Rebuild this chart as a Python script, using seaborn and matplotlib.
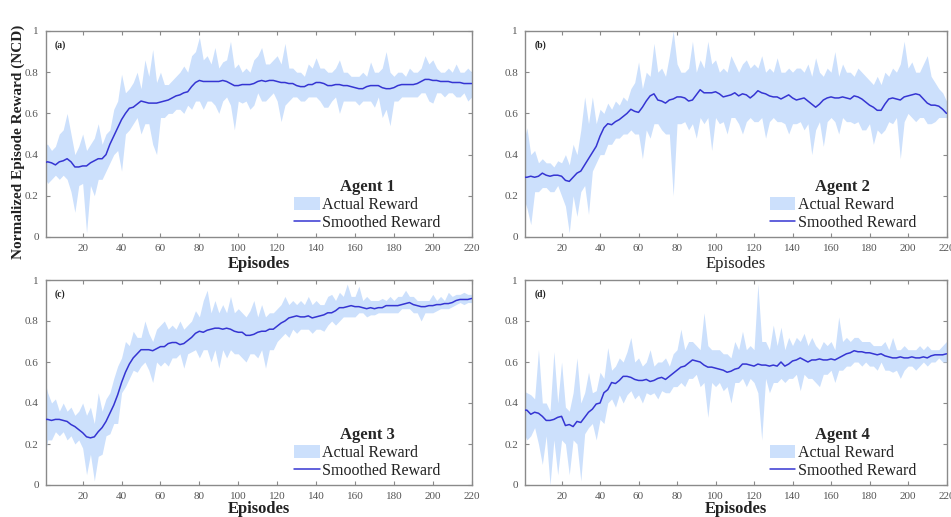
import numpy as np
import pandas as pd
import matplotlib
matplotlib.use("Agg")
import matplotlib.pyplot as plt
import seaborn as sns

# ---------------- data (sampled every 2 episodes) ----------------
episodes = list(range(0, 221, 2))

agent1_smoothed = [
    0.36, 0.365, 0.36, 0.35, 0.365, 0.37, 0.38, 0.365, 0.34, 0.34,
    0.345, 0.345, 0.36, 0.37, 0.38, 0.38, 0.40, 0.45, 0.49, 0.53,
    0.57, 0.60, 0.625, 0.63, 0.645, 0.66, 0.655, 0.65, 0.65, 0.65,
    0.655, 0.66, 0.665, 0.675, 0.685, 0.69, 0.70, 0.705, 0.73, 0.75,
    0.76, 0.755, 0.755, 0.755, 0.755, 0.755, 0.76, 0.755, 0.745, 0.735,
    0.735, 0.74, 0.74, 0.74, 0.745, 0.755, 0.76, 0.755, 0.76, 0.76,
    0.755, 0.75, 0.75, 0.745, 0.745, 0.735, 0.73, 0.73, 0.74, 0.74,
    0.75, 0.75, 0.745, 0.735, 0.735, 0.74, 0.74, 0.735, 0.735, 0.73,
    0.725, 0.72, 0.72, 0.73, 0.735, 0.735, 0.735, 0.725, 0.72, 0.72,
    0.725, 0.735, 0.74, 0.74, 0.74, 0.74, 0.745, 0.755, 0.765, 0.765,
    0.76, 0.76, 0.755, 0.755, 0.755, 0.75, 0.75, 0.75, 0.745, 0.745,
    0.745]
agent1_actual_high = [
    0.45, 0.45, 0.42, 0.44, 0.50, 0.52, 0.60, 0.50, 0.40, 0.44,
    0.50, 0.42, 0.45, 0.48, 0.55, 0.45, 0.50, 0.52, 0.62, 0.66,
    0.79, 0.70, 0.72, 0.75, 0.80, 0.72, 0.86, 0.78, 0.91, 0.75,
    0.80, 0.74, 0.74, 0.76, 0.78, 0.80, 0.83, 0.80, 0.88, 0.90,
    0.97, 0.86, 0.88, 0.84, 0.92, 0.82, 0.85, 0.86, 0.95, 0.82,
    0.84, 0.80, 0.82, 0.80, 0.86, 0.88, 0.92, 0.84, 0.84, 0.86,
    0.88, 0.84, 0.94, 0.82, 0.82, 0.80, 0.80, 0.78, 0.84, 0.82,
    0.87, 0.82, 0.82, 0.80, 0.80, 0.82, 0.86, 0.80, 0.80, 0.78,
    0.78, 0.78, 0.80, 0.78, 0.85, 0.80, 0.80, 0.82, 0.90, 0.80,
    0.78, 0.80, 0.80, 0.78, 0.82, 0.80, 0.80, 0.82, 0.88, 0.84,
    0.86, 0.82, 0.80, 0.80, 0.82, 0.80, 0.84, 0.80, 0.80, 0.82,
    0.80]
agent1_actual_low = [
    0.30, 0.26, 0.28, 0.30, 0.28, 0.30, 0.28, 0.22, 0.12, 0.25,
    0.26, 0.02, 0.25, 0.20, 0.28, 0.28, 0.32, 0.36, 0.40, 0.42,
    0.32, 0.50, 0.52, 0.55, 0.58, 0.50, 0.55, 0.55, 0.45, 0.40,
    0.58, 0.58, 0.60, 0.60, 0.62, 0.62, 0.60, 0.64, 0.62, 0.66,
    0.66, 0.62, 0.66, 0.66, 0.64, 0.60, 0.66, 0.68, 0.64, 0.52,
    0.66, 0.65, 0.66, 0.62, 0.64, 0.70, 0.66, 0.66, 0.68, 0.70,
    0.66, 0.56, 0.64, 0.66, 0.68, 0.68, 0.66, 0.66, 0.68, 0.68,
    0.68, 0.66, 0.63, 0.63, 0.66, 0.68, 0.60, 0.66, 0.66, 0.66,
    0.66, 0.64, 0.66, 0.66, 0.66, 0.63, 0.68, 0.58, 0.62, 0.54,
    0.66, 0.66, 0.68, 0.68, 0.68, 0.68, 0.68, 0.70, 0.70, 0.66,
    0.65, 0.70, 0.70, 0.68, 0.70, 0.70, 0.68, 0.68, 0.70, 0.66,
    0.68]

agent2_smoothed = [
    0.29, 0.29, 0.295, 0.29, 0.295, 0.31, 0.30, 0.295, 0.30, 0.30,
    0.295, 0.275, 0.27, 0.29, 0.31, 0.32, 0.35, 0.38, 0.41, 0.44,
    0.49, 0.53, 0.55, 0.545, 0.56, 0.57, 0.585, 0.60, 0.62, 0.61,
    0.605, 0.63, 0.66, 0.685, 0.695, 0.665, 0.66, 0.65, 0.665, 0.67,
    0.68, 0.68, 0.675, 0.66, 0.665, 0.69, 0.715, 0.70, 0.70, 0.70,
    0.705, 0.695, 0.68, 0.685, 0.69, 0.70, 0.685, 0.695, 0.69, 0.675,
    0.69, 0.71, 0.70, 0.695, 0.685, 0.68, 0.68, 0.67, 0.68, 0.69,
    0.675, 0.665, 0.67, 0.675, 0.66, 0.645, 0.63, 0.645, 0.665, 0.675,
    0.68, 0.675, 0.675, 0.68, 0.675, 0.67, 0.685, 0.68, 0.67, 0.655,
    0.64, 0.63, 0.615, 0.615, 0.645, 0.67, 0.675, 0.67, 0.665, 0.68,
    0.685, 0.69, 0.695, 0.69, 0.67, 0.65, 0.64, 0.64, 0.635, 0.62,
    0.60]
agent2_actual_high = [
    0.45, 0.53, 0.40, 0.42, 0.36, 0.38, 0.36, 0.36, 0.34, 0.37,
    0.36, 0.40, 0.35, 0.45, 0.40, 0.52, 0.68, 0.55, 0.68, 0.55,
    0.62, 0.60, 0.65, 0.62, 0.66, 0.64, 0.68, 0.66, 0.72, 0.75,
    0.85, 0.72, 0.80, 0.78, 0.94, 0.80, 0.82, 0.78, 0.88, 1.00,
    0.84, 0.80, 0.80, 0.82, 0.95, 0.80, 0.86, 0.82, 0.95, 0.84,
    0.86, 0.80, 0.82, 0.80, 0.88, 0.84, 0.80, 0.84, 0.86, 0.82,
    0.84, 0.82, 0.88, 0.80, 0.82, 0.80, 0.87, 0.80, 0.80, 0.82,
    0.80, 0.82, 0.82, 0.80, 0.84, 0.78, 0.87, 0.80, 0.78, 0.82,
    0.80, 0.90, 0.78, 0.84, 0.80, 0.80, 0.78, 0.82, 0.80, 0.78,
    0.76, 0.74, 0.78, 0.74, 0.80, 0.78, 0.82, 0.80, 0.84, 0.95,
    0.82, 0.85, 0.80, 0.80, 0.84, 0.88, 0.78, 0.75, 0.72, 0.70,
    0.66]
agent2_actual_low = [
    0.20, 0.14, 0.06, 0.22, 0.22, 0.24, 0.24, 0.22, 0.22, 0.25,
    0.20, 0.15, 0.02, 0.20, 0.10, 0.22, 0.25, 0.11, 0.32, 0.36,
    0.40, 0.40, 0.45, 0.45, 0.48, 0.48, 0.50, 0.50, 0.52, 0.50,
    0.50, 0.38, 0.52, 0.48, 0.55, 0.55, 0.52, 0.50, 0.50, 0.20,
    0.55, 0.55, 0.56, 0.52, 0.55, 0.48, 0.58, 0.55, 0.58, 0.42,
    0.58, 0.55, 0.56, 0.50, 0.58, 0.58, 0.55, 0.50, 0.56, 0.58,
    0.56, 0.56, 0.58, 0.48, 0.56, 0.58, 0.56, 0.56, 0.55, 0.50,
    0.55, 0.55, 0.56, 0.52, 0.55, 0.40, 0.52, 0.56, 0.44, 0.56,
    0.58, 0.56, 0.50, 0.58, 0.56, 0.56, 0.55, 0.56, 0.52, 0.52,
    0.55, 0.45, 0.52, 0.50, 0.52, 0.56, 0.55, 0.58, 0.38, 0.56,
    0.60, 0.58, 0.56, 0.58, 0.58, 0.55, 0.55, 0.56, 0.58, 0.58,
    0.58]

agent3_smoothed = [
    0.32, 0.32, 0.315, 0.32, 0.32, 0.315, 0.31, 0.295, 0.285, 0.27,
    0.255, 0.235, 0.23, 0.235, 0.26, 0.28, 0.31, 0.35, 0.39, 0.44,
    0.50, 0.55, 0.59, 0.62, 0.64, 0.66, 0.66, 0.66, 0.655, 0.665,
    0.675, 0.675, 0.69, 0.695, 0.695, 0.685, 0.69, 0.705, 0.72, 0.74,
    0.75, 0.745, 0.755, 0.76, 0.765, 0.765, 0.76, 0.765, 0.76, 0.75,
    0.745, 0.745, 0.73, 0.73, 0.735, 0.745, 0.75, 0.75, 0.76, 0.76,
    0.775, 0.79, 0.80, 0.815, 0.82, 0.825, 0.82, 0.82, 0.825, 0.815,
    0.82, 0.825, 0.83, 0.84, 0.84, 0.85, 0.865, 0.865, 0.87, 0.875,
    0.87, 0.87, 0.865, 0.86, 0.865, 0.86, 0.865, 0.865, 0.875, 0.875,
    0.875, 0.875, 0.88, 0.885, 0.89, 0.88, 0.875, 0.87, 0.87, 0.875,
    0.875, 0.88, 0.88, 0.885, 0.885, 0.89, 0.90, 0.905, 0.905, 0.905,
    0.91]
agent3_actual_high = [
    0.53, 0.45, 0.40, 0.42, 0.36, 0.40, 0.36, 0.38, 0.34, 0.36,
    0.40, 0.34, 0.38, 0.30, 0.45, 0.36, 0.42, 0.45, 0.52, 0.58,
    0.62, 0.70, 0.68, 0.75, 0.72, 0.72, 0.80, 0.74, 0.70, 0.76,
    0.78, 0.80, 0.76, 0.78, 0.76, 0.80, 0.76, 0.78, 0.80, 0.85,
    0.82, 0.90, 0.95, 0.84, 0.90, 0.84, 0.88, 0.84, 0.92, 0.84,
    0.86, 0.84, 0.82, 0.85, 0.90, 0.82, 0.88, 0.82, 0.84, 0.84,
    0.86, 0.88, 0.92, 0.88, 0.90, 0.88, 0.90, 0.88, 0.92, 0.88,
    0.90, 0.88, 0.88, 0.92, 0.93, 0.90, 0.94, 0.92, 0.98, 0.92,
    0.92, 0.97, 0.90, 0.92, 0.90, 0.90, 0.90, 0.91, 0.90, 0.92,
    0.90, 0.92, 0.92, 0.95, 0.92, 0.92, 0.90, 0.90, 0.90, 0.90,
    0.93, 0.90, 0.92, 0.90, 0.94, 0.92, 0.93, 0.93, 0.94, 0.93,
    0.93]
agent3_actual_low = [
    0.10, 0.22, 0.22, 0.26, 0.24, 0.26, 0.22, 0.24, 0.20, 0.22,
    0.18, 0.05, 0.15, 0.02, 0.14, 0.15, 0.24, 0.25, 0.30, 0.30,
    0.45, 0.48, 0.52, 0.56, 0.55, 0.58, 0.60, 0.56, 0.50, 0.60,
    0.58, 0.60, 0.58, 0.62, 0.62, 0.64, 0.57, 0.64, 0.65, 0.66,
    0.62, 0.66, 0.66, 0.60, 0.66, 0.57, 0.66, 0.62, 0.66, 0.64,
    0.64, 0.62, 0.60, 0.64, 0.64, 0.62, 0.66, 0.57, 0.66, 0.66,
    0.70, 0.72, 0.74, 0.72, 0.76, 0.74, 0.76, 0.76, 0.76, 0.74,
    0.76, 0.76, 0.75, 0.78, 0.80, 0.78, 0.80, 0.82, 0.82, 0.82,
    0.82, 0.84, 0.84, 0.82, 0.83, 0.83, 0.84, 0.84, 0.84, 0.84,
    0.84, 0.84, 0.86, 0.86, 0.86, 0.84, 0.84, 0.80, 0.84, 0.84,
    0.84, 0.85, 0.86, 0.86, 0.86, 0.87, 0.88, 0.89, 0.88, 0.89,
    0.89]

agent4_smoothed = [
    0.365, 0.365, 0.345, 0.355, 0.35, 0.335, 0.315, 0.315, 0.32, 0.33,
    0.335, 0.29, 0.295, 0.285, 0.31, 0.305, 0.33, 0.355, 0.37, 0.395,
    0.40, 0.45, 0.465, 0.50, 0.495, 0.51, 0.53, 0.53, 0.525, 0.515,
    0.51, 0.51, 0.515, 0.505, 0.51, 0.52, 0.525, 0.515, 0.53, 0.545,
    0.56, 0.575, 0.58, 0.595, 0.61, 0.605, 0.60, 0.585, 0.575, 0.575,
    0.57, 0.565, 0.56, 0.55, 0.555, 0.565, 0.57, 0.59, 0.59, 0.585,
    0.58, 0.59, 0.585, 0.585, 0.58, 0.585, 0.58, 0.60, 0.58, 0.59,
    0.605, 0.61, 0.62, 0.61, 0.60, 0.61, 0.61, 0.615, 0.61, 0.61,
    0.615, 0.61, 0.62, 0.63, 0.64, 0.645, 0.655, 0.65, 0.65, 0.645,
    0.645, 0.64, 0.635, 0.64, 0.63, 0.625, 0.62, 0.62, 0.625, 0.62,
    0.62, 0.625, 0.62, 0.62, 0.625, 0.62, 0.63, 0.635, 0.635, 0.635,
    0.64]
agent4_actual_high = [
    0.46, 0.45, 0.44, 0.42, 0.66, 0.40, 0.40, 0.36, 0.65, 0.40,
    0.60, 0.38, 0.36, 0.45, 0.62, 0.40, 0.45, 0.55, 0.45, 0.46,
    0.55, 0.52, 0.67, 0.56, 0.58, 0.62, 0.60, 0.65, 0.72, 0.60,
    0.62, 0.58, 0.60, 0.66, 0.58, 0.60, 0.60, 0.62, 0.58, 0.64,
    0.66, 0.76, 0.66, 0.70, 0.70, 0.68, 0.66, 0.84, 0.68, 0.66,
    0.66, 0.66, 0.64, 0.64, 0.62, 0.70, 0.66, 0.75, 0.66, 0.68,
    0.66, 0.98, 0.70, 0.70, 0.66, 0.78, 0.68, 0.77, 0.66, 0.72,
    0.68, 0.72, 0.70, 0.74, 0.68, 0.72, 0.68, 0.66, 0.70, 0.68,
    0.70, 0.66, 0.82, 0.70, 0.72, 0.70, 0.72, 0.72, 0.70, 0.70,
    0.70, 0.68, 0.68, 0.68, 0.70, 0.66, 0.72, 0.66, 0.66, 0.68,
    0.66, 0.66, 0.66, 0.68, 0.66, 0.68, 0.66, 0.66, 0.66, 0.68,
    0.70]
agent4_actual_low = [
    0.26, 0.22, 0.24, 0.28, 0.20, 0.10, 0.24, 0.00, 0.22, 0.05,
    0.22, 0.20, 0.05, 0.22, 0.20, 0.02, 0.25, 0.28, 0.30, 0.22,
    0.32, 0.30, 0.40, 0.42, 0.38, 0.44, 0.40, 0.44, 0.46, 0.42,
    0.44, 0.40, 0.45, 0.44, 0.45, 0.42, 0.46, 0.45, 0.45, 0.48,
    0.48, 0.50, 0.48, 0.52, 0.52, 0.54, 0.48, 0.50, 0.33, 0.50,
    0.48, 0.50, 0.46, 0.48, 0.40, 0.50, 0.50, 0.52, 0.48, 0.52,
    0.50, 0.45, 0.22, 0.52, 0.45, 0.50, 0.50, 0.52, 0.50, 0.52,
    0.52, 0.54, 0.46, 0.54, 0.52, 0.52, 0.50, 0.48, 0.54, 0.54,
    0.56, 0.50, 0.56, 0.56, 0.58, 0.58, 0.60, 0.60, 0.58, 0.60,
    0.58, 0.58, 0.56, 0.60, 0.56, 0.56, 0.55, 0.56, 0.52, 0.56,
    0.58, 0.58, 0.56, 0.58, 0.60, 0.58, 0.60, 0.60, 0.62, 0.60,
    0.60]

panel_labels = ["(a)", "(b)", "(c)", "(d)"]
agent_names = ["Agent 1", "Agent 2", "Agent 3", "Agent 4"]
xticks = [20, 40, 60, 80, 100, 120, 140, 160, 180, 200, 220]
yticks = [0, 0.2, 0.4, 0.6, 0.8, 1]
ytick_labels = ["0", "0.2", "0.4", "0.6", "0.8", "1"]
xlabel_bold = [True, False, True, True]

# ---------------- style ----------------
sns.set_style("ticks")
plt.rcParams["font.family"] = ["Liberation Serif", "DejaVu Serif"]
plt.rcParams["xtick.direction"] = "in"
plt.rcParams["ytick.direction"] = "in"

FILL = "#cce0fc"
LINE = "#3535d2"
SPINE = "#8a8a8a"
TICKC = "#555555"

fig = plt.figure(figsize=(9.51, 5.17), dpi=100)
W, H = 951.0, 517.0
boxes = [  # left, top, right, bottom in pixels
    (45.7, 31, 471.7, 237),
    (525.0, 31, 946.5, 237),
    (45.7, 280, 471.7, 485),
    (525.0, 280, 946.5, 485),
]
xlabel_pads = [2, 2, 0, 0]

smoothed_all = [agent1_smoothed, agent2_smoothed, agent3_smoothed, agent4_smoothed]
high_all = [agent1_actual_high, agent2_actual_high, agent3_actual_high, agent4_actual_high]
low_all = [agent1_actual_low, agent2_actual_low, agent3_actual_low, agent4_actual_low]

for i in range(4):
    l, t, r, b = boxes[i]
    ax = fig.add_axes([l / W, 1 - b / H, (r - l) / W, (b - t) / H])
    df = pd.DataFrame({"Episode": episodes,
                       "Smoothed": smoothed_all[i],
                       "High": high_all[i],
                       "Low": low_all[i]})
    fill = ax.fill_between(df["Episode"], df["Low"], df["High"],
                           color=FILL, linewidth=0, zorder=1)
    sns.lineplot(data=df, x="Episode", y="Smoothed", ax=ax, color=LINE,
                 linewidth=1.1, zorder=3)
    line = ax.lines[-1]
    ax.set_xlim(1, 220)
    ax.set_ylim(0, 1)
    ax.set_xticks(xticks)
    ax.set_yticks(yticks)
    ax.set_yticklabels(ytick_labels)
    ax.tick_params(axis="both", which="both", top=True, right=True,
                   direction="in", length=3, width=0.8, color=SPINE,
                   labelsize=8, labelcolor=TICKC, pad=5)
    for sp in ax.spines.values():
        sp.set_visible(True)
        sp.set_color(SPINE)
        sp.set_linewidth(1.0)
    ax.set_xlabel("Episodes", fontsize=12,
                  fontweight="bold" if xlabel_bold[i] else "normal",
                  labelpad=xlabel_pads[i], color="#222222")
    ax.set_ylabel("")
    ax.text(0.022, 0.955, panel_labels[i], transform=ax.transAxes,
            fontsize=7, fontweight="bold", va="top", ha="left", color="#222222")
    leg = ax.legend(handles=[fill, line],
                    labels=["Actual Reward", "Smoothed Reward"],
                    title=agent_names[i], loc="lower right",
                    bbox_to_anchor=(0.935, 0.015), frameon=False,
                    fontsize=11.5, handlelength=1.6, handleheight=0.9,
                    handletextpad=0.15, labelspacing=0.1,
                    borderaxespad=0.0, borderpad=0.2)
    leg.get_title().set_fontweight("bold")
    leg.get_title().set_fontsize(12)
    for txt in leg.get_texts():
        txt.set_color("#222222")

fig.text(18 / W, 1 - 142 / H, "Normalized Episode Reward (NCD)",
         rotation=90, va="center", ha="center", fontsize=11,
         fontweight="bold", color="#222222")

fig.savefig("out.png", dpi=100)
